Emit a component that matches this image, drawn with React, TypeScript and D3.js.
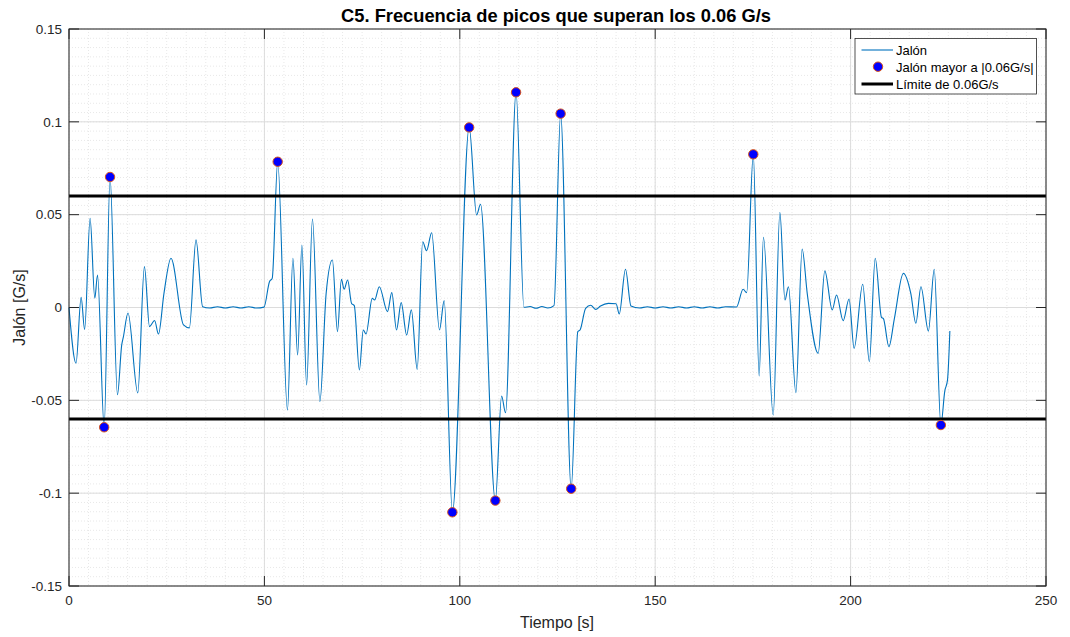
import React from "react";
import * as d3 from "d3";

// ---- Data ----
const timeS: number[] = [
  0, 1.8, 3.1, 4.0, 5.4, 6.6, 7.3, 9.0, 10.5, 12.4, 13.5, 13.9, 15.1, 17.6, 19.3, 20.6, 21.9, 22.9,
  24.3, 26.1, 29.3, 30.8, 32.5, 34.2, 36, 38, 40, 42, 44, 46, 48, 49.9, 51.3, 52.0, 53.4, 55.9,
  57.3, 58.5, 59.6, 60.8, 62.3, 64.2, 65.8, 67.4, 68.7, 69.7, 70.4, 71.3, 72.3, 73.0, 74.3, 75.3,
  76.0, 77.6, 78.2, 79.4, 81.5, 82.6, 83.8, 85.0, 86.4, 87.6, 89.1, 90.5, 91.5, 92.8, 94.8, 96.0,
  98.1, 102.4, 104.3, 105.3, 109.1, 110.7, 111.7, 114.4, 116.4, 118.0, 119.5, 121.0, 122.5, 124.1,
  125.8, 128.5, 130.2, 130.8, 132.2, 133.5, 134.8, 136.0, 138.0, 140.0, 140.8, 142.4, 143.8, 146,
  148, 150, 152, 154, 156, 158, 160, 162, 164, 166, 168, 170.8, 172.5, 173.4, 175.1, 176.6, 177.7,
  180.2, 181.9, 183.2, 184.1, 186.0, 187.6, 188.9, 191.7, 193.4, 195.3, 196.4, 198.1, 199.6, 200.9,
  203.1, 204.8, 206.3, 207.9, 208.4, 209.8, 211.2, 213.5, 215.4, 216.7, 218.0, 219.9, 221.4, 223.1,
  224.1, 224.8, 225.4,
];
const jalon: number[] = [
  0, -0.03, 0.0055, -0.0118, 0.048, 0.005, 0.0175, -0.0645, 0.0703, -0.047, -0.02, -0.016, -0.003,
  -0.046, 0.022, -0.0103, -0.007, -0.0143, 0.0076, 0.0265, -0.0094, -0.011, 0.0364, 0.0004, -0.0003,
  0.0004, -0.0003, 0.0004, -0.0003, 0.0004, -0.0003, 0.0002, 0.0139, 0.0157, 0.0785, -0.0552, 0.0265,
  -0.0256, 0.0337, -0.0417, 0.0477, -0.0507, 0.0076, 0.0256, -0.013, 0.0152, 0.0098, 0.0148, 0.0022,
  0.001, -0.0337, -0.0121, -0.0143, 0.0049, 0.004, 0.0112, -0.0022, 0.008, -0.0121, 0.0026, -0.0148,
  -0.0013, -0.0333, 0.0354, 0.0306, 0.0403, -0.0121, 0.0037, -0.1103, 0.097, 0.0498, 0.0556, -0.104,
  -0.0477, -0.0567, 0.1159, 0.0001, 0.0005, -0.0004, 0.0005, -0.0003, 0.001, 0.1044, -0.0976, -0.013,
  -0.012, -0.0005, 0.0012, -0.001, 0.0008, 0.0022, 0.002, -0.0035, 0.0206, 0.0008, -0.0003, 0.0004,
  -0.0003, 0.0004, -0.0003, 0.0004, -0.0003, 0.0004, -0.0003, 0.0004, -0.0003, 0.0004, 0.0003, 0.0098,
  0.008, 0.0825, -0.0369, 0.0378, -0.0579, 0.0513, 0.004, 0.0112, -0.0459, 0.0315, 0.0076, -0.0247,
  0.0197, -0.0013, 0.0067, -0.0071, 0.0046, -0.022, 0.0125, -0.0292, 0.0265, -0.0053, -0.006, -0.0211,
  -0.006, 0.0184, 0.0076, -0.0085, 0.0112, -0.0127, 0.0206, -0.0633, -0.045, -0.039, -0.0127,
];
const limit = 0.06;
const xTicks = [0, 50, 100, 150, 200, 250];
const yTicks = [-0.15, -0.1, -0.05, 0, 0.05, 0.1, 0.15];
const yTickLabels = ["-0.15", "-0.1", "-0.05", "0", "0.05", "0.1", "0.15"];
const legendLabels = ["Jalón", "Jalón mayor a |0.06G/s|", "Límite de 0.06G/s"];

const W = 1070;
const H = 637;
const L = 69, R = 1046, T = 29, B = 586;
const FONT = "'Liberation Sans', Arial, Helvetica, sans-serif";
const AX = "#262626";

export default function App() {
  const x = d3.scaleLinear().domain([0, 250]).range([L, R]);
  const y = d3.scaleLinear().domain([-0.15, 0.15]).range([B, T]);
  const pts = timeS.map((t, i) => [t, jalon[i]] as [number, number]);
  const line = d3
    .line<[number, number]>()
    .x((d) => x(d[0]))
    .y((d) => y(d[1]))
    .curve(d3.curveMonotoneX);
  const peaks = pts.filter((d) => Math.abs(d[1]) > limit);
  const xMinor = d3.range(0, 250.001, 5);
  const yMinor = d3.range(-0.15, 0.15001, 0.005);
  const tickLen = 10;

  return (
    <svg width={W} height={H} style={{ position: "absolute", left: 0, top: 0, background: "#fff" }}
      fontFamily={FONT}>
      <rect x={0} y={0} width={W} height={H} fill="#fff" />
      {/* minor grid */}
      {xMinor.map((v, i) => (
        <line key={"xm" + i} x1={x(v)} x2={x(v)} y1={T} y2={B} stroke="#e8e8e8" strokeWidth={1}
          strokeDasharray="1,2" />
      ))}
      {yMinor.map((v, i) => (
        <line key={"ym" + i} x1={L} x2={R} y1={y(v)} y2={y(v)} stroke="#e8e8e8" strokeWidth={1}
          strokeDasharray="1,2" />
      ))}
      {/* major grid */}
      {xTicks.map((v, i) => (
        <line key={"xg" + i} x1={x(v)} x2={x(v)} y1={T} y2={B} stroke="#dcdcdc" strokeWidth={1} />
      ))}
      {yTicks.map((v, i) => (
        <line key={"yg" + i} x1={L} x2={R} y1={y(v)} y2={y(v)} stroke="#dcdcdc" strokeWidth={1} />
      ))}
      {/* data line */}
      <path d={line(pts) || ""} fill="none" stroke="#0072BD" strokeWidth={1.1} />
      {/* limit lines */}
      <line x1={x(0)} x2={x(250)} y1={y(limit)} y2={y(limit)} stroke="#000" strokeWidth={3} />
      <line x1={x(0)} x2={x(250)} y1={y(-limit)} y2={y(-limit)} stroke="#000" strokeWidth={3} />
      {/* peaks */}
      {peaks.map((d, i) => (
        <circle key={"p" + i} cx={x(d[0])} cy={y(d[1])} r={4.7} fill="#0000FF" stroke="#D95319"
          strokeWidth={1} />
      ))}
      {/* axes box */}
      <rect x={L} y={T} width={R - L} height={B - T} fill="none" stroke={AX} strokeWidth={1} />
      {/* ticks */}
      {xTicks.map((v, i) => (
        <g key={"xt" + i}>
          <line x1={x(v)} x2={x(v)} y1={B} y2={B - tickLen} stroke={AX} />
          <line x1={x(v)} x2={x(v)} y1={T} y2={T + tickLen} stroke={AX} />
          <text x={x(v)} y={605} textAnchor="middle" fontSize={13.5} fill={AX}>{v}</text>
        </g>
      ))}
      {yTicks.map((v, i) => (
        <g key={"yt" + i}>
          <line x1={L} x2={L + tickLen} y1={y(v)} y2={y(v)} stroke={AX} />
          <line x1={R} x2={R - tickLen} y1={y(v)} y2={y(v)} stroke={AX} />
          <text x={62} y={y(v) + 4.7} textAnchor="end" fontSize={13.5} fill={AX}>{yTickLabels[i]}</text>
        </g>
      ))}
      {/* labels */}
      <text x={557} y={628} textAnchor="middle" fontSize={16} fill={AX}>Tiempo [s]</text>
      <text transform={`translate(25,${(T + B) / 2}) rotate(-90)`} textAnchor="middle" fontSize={16}
        fill={AX}>Jalón [G/s]</text>
      <text x={556} y={22} textAnchor="middle" fontSize={18.3} fontWeight="bold" fill="#000">
        C5. Frecuencia de picos que superan los 0.06 G/s
      </text>
      {/* legend */}
      <g>
        <rect x={855} y={38.5} width={181.5} height={55.5} fill="#fff" stroke={AX} strokeWidth={0.8} />
        <line x1={861.5} x2={893} y1={50} y2={50} stroke="#0072BD" strokeWidth={1.1} />
        <circle cx={878} cy={66.7} r={4.7} fill="#0000FF" stroke="#D95319" strokeWidth={1} />
        <line x1={861.5} x2={893} y1={84} y2={84} stroke="#000" strokeWidth={3} />
        {legendLabels.map((s, i) => (
          <text key={"lg" + i} x={896} y={54.8 + i * 17} fontSize={13} fill="#000">{s}</text>
        ))}
      </g>
    </svg>
  );
}
